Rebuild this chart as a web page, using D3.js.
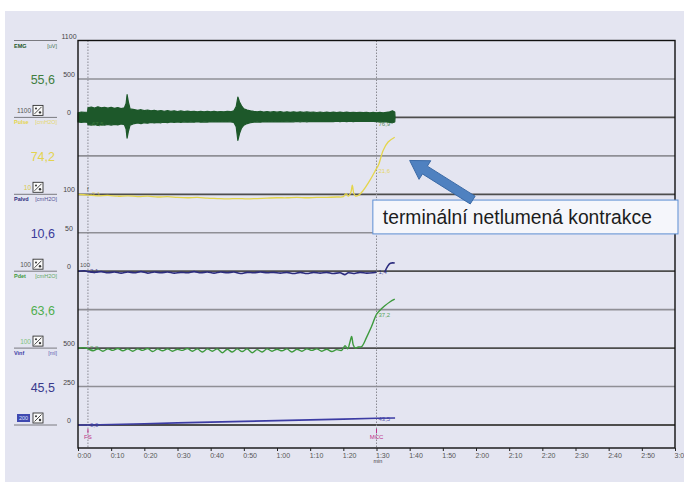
<!DOCTYPE html>
<html><head><meta charset="utf-8">
<script src="https://cdn.jsdelivr.net/npm/d3@7"></script>
<style>body{margin:0;background:#fff}svg{display:block;font-family:"Liberation Sans",Arial,sans-serif}</style>
</head><body><svg id="c" width="684" height="482"></svg>
<script>
// ---------- data ----------
const tickSeconds = [0,10,20,30,40,50,60,70,80,90,100,110,120,130,140,150,160,170,180];
const tickLabels = ["0:00","0:10","0:20","0:30","0:40","0:50","1:00","1:10","1:20","1:30","1:40","1:50","2:00","2:10","2:20","2:30","2:40","2:50","3:00"];
const rowLabels = ["1100","500","0","","100","50","0","","500","250","0"];
const innerRowLabels = [{row:3,text:"50"},{row:7,text:"50"}];

const channels = ["EMG","Pulse","Palvd","Pdet","Vinf"];
const channelUnits = ["[uV]","[cmH2O]","[cmH2O]","[cmH2O]","[ml]"];
const channelReadouts = ["55,6","74,2","10,6","63,6","45,5"];
const channelGains = ["1100","10","100","100","200"];
const channelColors = ["#1d582a","#e4d54c","#2c2c7e","#3d9a3d","#3c3ca4"];
const readoutColors = ["#3f7d3f","#e3d34e","#3b3b9a","#4fae4f","#393a8c"];
const channelZeroRow = [2,4,6,8,10];
const channelPerRow = [500,50,50,50,250];

const cursorTimes = [3,90];
const cursorMarks = ["FS","MCC"];
const cursorReadA = ["-67,5","-2,1","2,1","2,2","0,0"];
const cursorReadB = ["76,9","21,6","1,4","37,2","43,5"];

// EMG envelope: [time s, upper uV, lower uV]
const emgEnvelope = [
[0,60,-60],[1,70,-65],[2,65,-60],[2.9,70,-65],[3.0,125,-95],[4,135,-100],[5,120,-90],[6,138,-105],[7,125,-95],[8,132,-100],[9,120,-92],[10,130,-100],[11,118,-90],[12,128,-98],[13,115,-85],[14,125,-95],
[14.5,180,-150],[14.8,295,-270],[15.2,200,-180],[15.7,110,-100],[17,100,-80],[18,92,-72],[19,100,-80],[20,88,-70],[21,96,-75],[22,85,-66],[23,92,-72],[24,82,-64],[25,90,-70],[26,80,-62],[27,88,-68],[28,78,-60],[29,85,-65],[30,76,-60],[31,84,-64],[32,75,-58],[33,82,-63],[34,74,-58],[35,80,-62],[36,72,-56],[37,80,-62],[38,73,-57],[39,79,-61],[40,72,-56],[41,78,-60],[42,71,-55],[43,77,-60],[44,72,-56],[45,78,-60],[46,74,-58],[47,85,-65],
[47.7,140,-120],[48.2,265,-300],[48.7,200,-210],[49.3,150,-140],[50,110,-100],[51,95,-80],[52,85,-70],[53,78,-62],[54,72,-58],[55,78,-62],[56,70,-56],[57,76,-60],[58,68,-55],[59,75,-60],[60,68,-55],[61,74,-59],[62,67,-54],[63,73,-58],[64,66,-54],[65,72,-58],[66,66,-53],[67,72,-58],[68,65,-53],[69,71,-57],[70,65,-52],[71,70,-56],[72,64,-52],[73,70,-56],[74,64,-51],[75,69,-55],[76,63,-51],[77,69,-55],[78,63,-50],[79,68,-55],[80,62,-50],[81,68,-54],[82,62,-50],[83,67,-54],[84,61,-50],[85,67,-53],[86,61,-49],[87,66,-53],[88,60,-49],[89,65,-52],[90,60,-55],[91,65,-58],[92,60,-55],[93,66,-60],[94,72,-65],[94.8,85,-70],[95.5,70,-60],[95.6,0,0]
];
const pulseSeries = [[0,0],[3,-1],[6,-2],[9,-1.5],[12,-2.5],[15,-2],[18,-3],[21,-2.5],[24,-3.5],[27,-3],[30,-4],[33,-4.5],[36,-4],[39,-5],[42,-5.5],[45,-6],[48,-5.5],[51,-6],[54,-5.5],[57,-5],[60,-4.5],[63,-4.5],[66,-4],[69,-4.5],[72,-4],[75,-4],[78,-3.5],[80,-3],[80.8,1],[81.5,-2.5],[82.3,3],[82.7,12],[83.1,2],[83.6,-2],[84.5,-1.5],[86,5],[88,18],[89.8,32],[90.6,38],[92,57],[93.5,68],[95.5,74.2]];
const palvdSeries = [[0,0],[2,0.5],[3,-0.5],[5,-1.5],[7,-0.5],[9,-2],[11,-1],[13,-2.5],[15,-1],[17,-2],[19,-0.5],[21,-2.5],[23,-1],[25,-2],[27,-1],[29,-2.5],[31,-1.5],[33,-2],[35,-0.5],[37,-2],[39,-1],[41,-2.5],[43,-1],[45,-2],[47,-1],[49,-3],[51,-1.5],[53,-2],[55,-1],[57,-2],[59,-1.5],[61,-2.5],[63,-1.5],[65,-3],[67,-1.5],[69,-3],[71,-1.5],[73,-2.5],[75,-1.5],[77,-3],[79,-2],[80.5,-4.5],[81.5,-2],[83,-3],[85,-1.5],[87,-2.5],[89,-2],[90,-1.4],[91,null],[92.5,-1],[93.3,6],[94.2,10.4],[95.5,10.6]];
const pdetSeries = [[0,0],[2,0.5],[3,-1],[4.5,-3.5],[6,-1],[7.5,-4],[9,-1],[10.5,-3],[12,-0.5],[13.5,-3.5],[15,-1],[16.5,-4],[18,-1],[19.5,-3],[21,-0.5],[22.5,-4.5],[24,-1],[25.5,-3.5],[27,-1],[28.5,-4],[30,-1.5],[31.5,-3],[33,-0.5],[34.5,-4],[36,-1],[37.5,-5],[39,-1],[40.5,-4],[42,-1],[43.5,-6],[45,-1.5],[46.5,-5],[48,-1],[49.5,-4.5],[51,-1],[52.5,-6],[54,-2],[55.5,-5],[57,-1],[58.5,-4],[60,-1.5],[61.5,-3.5],[63,-1],[64.5,-5],[66,-1.5],[67.5,-4],[69,-1],[70.5,-3],[72,-1],[73.5,-4],[75,-1.5],[76.5,-4.5],[78,-2],[79.5,-3],[80.5,3],[81.3,-1],[82,8],[82.5,15],[83,4],[83.6,0],[84.5,1.5],[85.5,2],[87,14],[88.5,28],[90,44],[91,49],[92.5,55],[94,60],[95.5,63.6]];
const vinfSeries = [[0,0],[3,0],[10,3.5],[20,8.5],[30,13.5],[40,18.5],[50,23.5],[60,28.5],[70,33.5],[80,38.5],[90,43.5],[95.6,45.5]];

const annotationText = "terminální netlumená kontrakce";
const annotationBox = {t0:88.9, t1:180.9, r0:4.15, r1:5.03};
const annotationArrow = {tailT:119, tailR:4.15, tipT:100, tipR:3.12};

// ---------- layout ----------
const svg = d3.select("#c");
const x = d3.scaleLinear().domain([0,180]).range([78,675]);
const yRow = d3.scaleLinear().domain([0,10]).range([40.5,425]);
const plotBottom = 448;
const yCh = channels.map((c,i)=> d3.scaleLinear().domain([0, channelPerRow[i]]).range([yRow(channelZeroRow[i]), yRow(channelZeroRow[i]-1)]));

svg.append("rect").attr("x",5).attr("y",11).attr("width",679).attr("height",471).attr("fill","#e4e5f1");

// grid rows
const rows = d3.range(1,11);
svg.append("g").selectAll("line").data(rows).join("line")
  .attr("x1",x(0)).attr("x2",x(180)).attr("y1",r=>yRow(r)).attr("y2",r=>yRow(r))
  .attr("stroke",r=> r%2===0 ? "#4d4d4d" : "#8f8f96")
  .attr("stroke-width",r=> r%2===0 ? 1.8 : 1.6);

// cursors
svg.append("g").selectAll("line").data(cursorTimes).join("line")
  .attr("x1",t=>x(t)).attr("x2",t=>x(t)).attr("y1",yRow(0)).attr("y2",plotBottom)
  .attr("stroke","#8a8a92").attr("stroke-width",1).attr("stroke-dasharray","1.5,1.5");

// EMG
const emgArea = d3.area().x(d=>x(d[0])).y0(d=>yCh[0](d[2])).y1(d=>yCh[0](d[1]));
svg.append("path").datum(emgEnvelope).attr("d",emgArea)
  .attr("fill",channelColors[0]).attr("stroke",channelColors[0]).attr("stroke-width",1.2).attr("stroke-linejoin","round");

const series = [null, pulseSeries, palvdSeries, pdetSeries, vinfSeries];
const widths = [0,1.3,1.6,1.4,1.6];
series.forEach((s,i)=>{
  if(!s) return;
  const ln = d3.line().defined(d=>d[1]!==null).x(d=>x(d[0])).y(d=>yCh[i](d[1]))
    .curve(i===4 ? d3.curveLinear : d3.curveCatmullRom.alpha(0.5));
  svg.append("path").datum(s).attr("d",ln).attr("fill","none")
    .attr("stroke",channelColors[i]).attr("stroke-width",widths[i]).attr("stroke-linejoin","round");
});

// frame
svg.append("rect").attr("x",x(0)).attr("y",yRow(0)).attr("width",x(180)-x(0)).attr("height",plotBottom-yRow(0))
  .attr("fill","none").attr("stroke","#111").attr("stroke-width",1.4);

// x axis
const ax = svg.append("g").attr("transform",`translate(0,${plotBottom})`)
  .call(d3.axisBottom(x).tickValues(tickSeconds).tickFormat((d,i)=>tickLabels[i]).tickSize(3).tickSizeOuter(0));
ax.select(".domain").remove();
ax.selectAll(".tick line").attr("stroke","#222");
ax.selectAll(".tick text").attr("text-anchor","start").attr("dx",-1).attr("y",5)
  .attr("font-size",7).attr("fill","#555").attr("font-family","Liberation Sans, Arial");
svg.append("text").attr("x",x(90)-3).attr("y",463).attr("font-size",5.5).attr("fill","#444").text("min");

// row labels left of frame
svg.append("g").selectAll("text").data(rowLabels.map((t,r)=>({t,r})).filter(d=>d.t)).join("text")
  .attr("x",69).attr("y",d=>yRow(d.r)-2).attr("text-anchor","middle")
  .attr("font-size",7).attr("fill","#444").text(d=>d.t);
svg.append("g").selectAll("text").data(innerRowLabels).join("text")
  .attr("x",x(0)+2).attr("y",d=>yRow(d.r)-1).attr("font-size",7).attr("fill","#555").text(d=>d.text);
svg.append("g").selectAll("text").data([4,8]).join("text")
  .attr("x",x(2.7)).attr("y",r=>yRow(r)-3).attr("font-size",6).attr("fill","#555").text("f");
svg.append("text").attr("x",x(0)+2).attr("y",yRow(6)-4).attr("font-size",6).attr("fill","#555").text("100");

// cursor readouts
channels.forEach((c,i)=>{
  const col = i===0 ? "#3f7d3f" : channelColors[i];
  const s = i===0 ? null : series[i];
  const ya = i===0 ? yCh[0](0)+9 : yCh[i](0)+2;
  svg.append("text").attr("x",x(cursorTimes[0])+2).attr("y",ya).attr("font-size",6).attr("fill",col).attr("opacity",0.85).text(cursorReadA[i]);
  let yb;
  if(i===0) yb = yCh[0](0)+9;
  else {
    const pt = s.filter(d=>d[1]!==null && d[0]<=cursorTimes[1]+0.01).pop();
    yb = i===2 ? yCh[i](0)+3 : yCh[i](pt[1])+3;
  }
  svg.append("text").attr("x",x(cursorTimes[1])+2).attr("y",yb).attr("font-size",6).attr("fill",col).attr("opacity",0.85).text(cursorReadB[i]);
});

// event marks
cursorTimes.forEach((t,i)=>{
  svg.append("line").attr("x1",x(t)).attr("x2",x(t)).attr("y1",yRow(10)+4).attr("y2",yRow(10)+8).attr("stroke","#c0308a").attr("stroke-width",1);
  svg.append("text").attr("x",x(t)).attr("y",yRow(10)+14).attr("text-anchor","middle").attr("font-size",6).attr("fill","#c0308a").text(cursorMarks[i]);
});

// left panel
channels.forEach((c,i)=>{
  const yTop = yRow(2*i), yBot = yRow(2*i+2), yMid = yRow(2*i+1);
  svg.append("line").attr("x1",14).attr("x2",57).attr("y1",yTop).attr("y2",yTop).attr("stroke","#7a7a80").attr("stroke-width",1);
  svg.append("text").attr("x",14).attr("y",yTop+7).attr("font-size",5.5).attr("font-weight","bold").attr("fill",channelColors[i]).text(c);
  svg.append("text").attr("x",57).attr("y",yTop+7).attr("text-anchor","end").attr("font-size",5.5).attr("fill",channelColors[i]).attr("opacity",0.8).text(channelUnits[i]);
  svg.append("text").attr("x",55).attr("y",yMid+5).attr("text-anchor","end").attr("font-size",12.5).attr("fill",readoutColors[i]).text(channelReadouts[i]);
  const gy = yBot-7;
  if(i===4){
    svg.append("rect").attr("x",17).attr("y",gy-4).attr("width",13).attr("height",8).attr("fill","#3f49b0");
    svg.append("text").attr("x",23.5).attr("y",gy+2.2).attr("text-anchor","middle").attr("font-size",5.5).attr("fill","#dfe3ff").text(channelGains[i]);
  } else {
    svg.append("text").attr("x",31).attr("y",gy+2.5).attr("text-anchor","end").attr("font-size",6.5)
      .attr("fill", i===1 ? "#d9c94a" : i===3 ? "#7fc27f" : "#555").text(channelGains[i]);
  }
  const ig = svg.append("g").attr("transform",`translate(33,${gy-5})`);
  ig.append("rect").attr("width",10).attr("height",10).attr("fill","#fafafa").attr("stroke","#333").attr("stroke-width",0.9);
  ig.append("line").attr("x1",1.5).attr("y1",8.5).attr("x2",8.5).attr("y2",1.5).attr("stroke","#333").attr("stroke-width",0.9);
  ig.append("circle").attr("cx",3).attr("cy",3.2).attr("r",1).attr("fill","#333");
  ig.append("circle").attr("cx",7).attr("cy",7).attr("r",1.2).attr("fill","#333");
});
svg.append("line").attr("x1",14).attr("x2",57).attr("y1",yRow(10)).attr("y2",yRow(10)).attr("stroke","#7a7a80").attr("stroke-width",1);

// annotation
const bx0 = x(annotationBox.t0), bx1 = x(annotationBox.t1), by0 = yRow(annotationBox.r0), by1 = yRow(annotationBox.r1);
svg.append("rect").attr("x",bx0).attr("y",by0).attr("width",bx1-bx0).attr("height",by1-by0)
  .attr("fill","#f5f6fb").attr("stroke","#5d8fd4").attr("stroke-width",1);
svg.append("text").attr("x",bx0+10).attr("y",yRow(4.77)).attr("font-size",19.3).attr("fill","#1c1c1c").text(annotationText);

const x1 = x(annotationArrow.tailT), y1 = yRow(annotationArrow.tailR), x2 = x(annotationArrow.tipT), y2 = yRow(annotationArrow.tipR);
const L = Math.hypot(x2-x1,y2-y1), ux=(x2-x1)/L, uy=(y2-y1)/L, nx=-uy, ny=ux;
const hw=4.6, hh=11, hl=18;
const nxp = x2-ux*hl, nyp = y2-uy*hl;
const pts = [[x1+nx*hw,y1+ny*hw],[nxp+nx*hw,nyp+ny*hw],[nxp+nx*hh,nyp+ny*hh],[x2,y2],[nxp-nx*hh,nyp-ny*hh],[nxp-nx*hw,nyp-ny*hw],[x1-nx*hw,y1-ny*hw]];
svg.append("polygon").attr("points",pts.map(p=>p.join(",")).join(" "))
  .attr("fill","#4f81c0").attr("stroke","#3b6aa6").attr("stroke-width",1);
</script></body></html>
